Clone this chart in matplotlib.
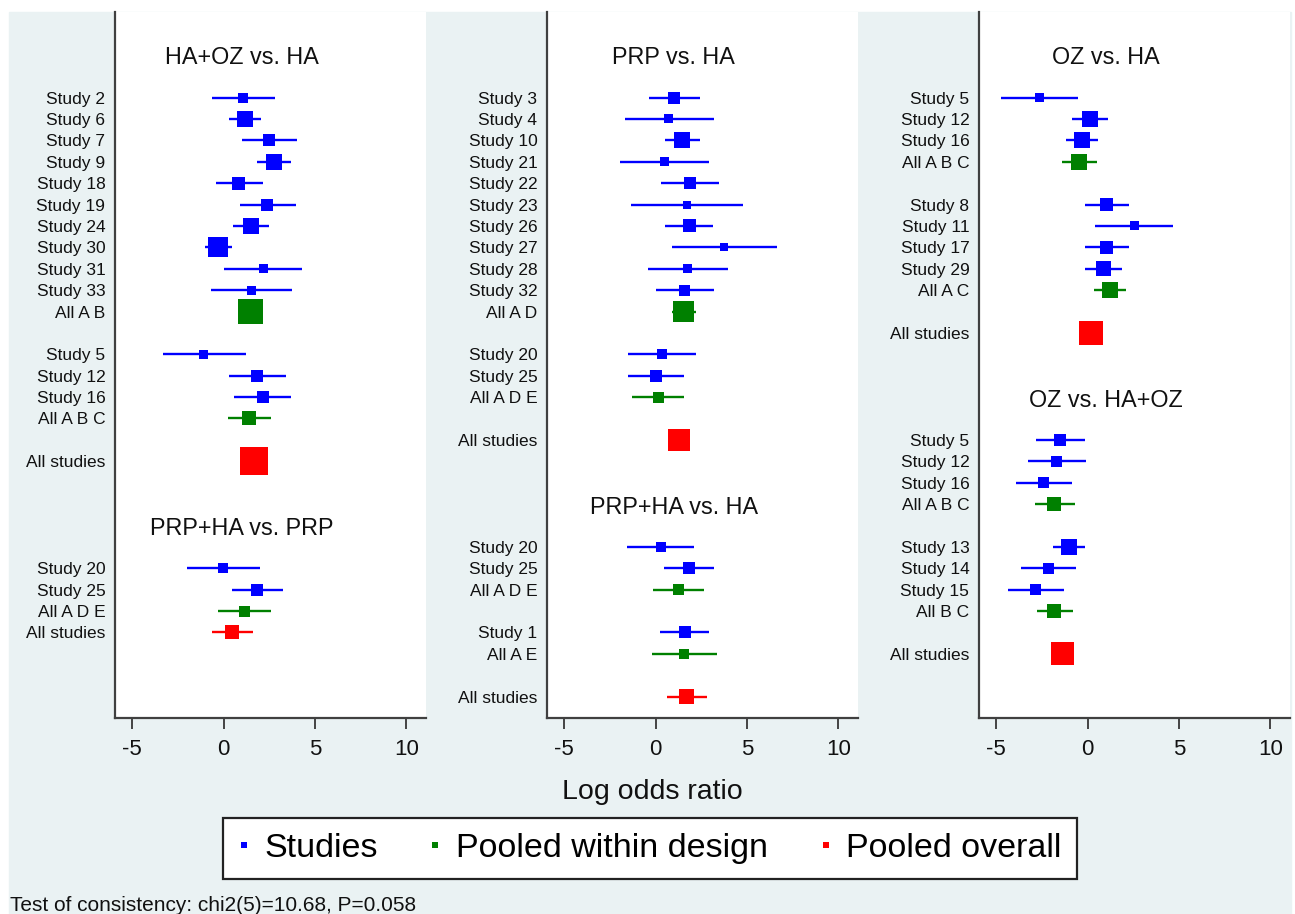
import matplotlib.pyplot as plt
from matplotlib.lines import Line2D
from matplotlib.patches import Rectangle

plt.rcParams['font.family'] = ['Liberation Sans', 'DejaVu Sans']

# row layout of each panel, top to bottom (first row is -4)
# kinds: '' empty, 't' heading, 's' study, 'p' pooled within design, 'o' pooled overall
p1_labels = ['', '', 'HA+OZ vs. HA', '',
             'Study 2', 'Study 6', 'Study 7', 'Study 9', 'Study 18', 'Study 19',
             'Study 24', 'Study 30', 'Study 31', 'Study 33', 'All A B', '',
             'Study 5', 'Study 12', 'Study 16', 'All A B C', '',
             'All studies', '', '', 'PRP+HA vs. PRP', '',
             'Study 20', 'Study 25', 'All A D E', 'All studies']
p1_kinds = ['', '', 't', '',
            's', 's', 's', 's', 's', 's', 's', 's', 's', 's', 'p', '',
            's', 's', 's', 'p', '',
            'o', '', '', 't', '',
            's', 's', 'p', 'o']
p1_est = [1.08, 1.17, 2.51, 2.73, 0.84, 2.40, 1.50, -0.29, 2.16, 1.52, 1.45,
          -1.08, 1.85, 2.14, 1.39, 1.66, -0.02, 1.83, 1.15, 0.46]
p1_lo = [-0.62, 0.27, 1.03, 1.80, -0.40, 0.92, 0.51, -1.03, 0.04, -0.70, 0.95,
         -3.34, 0.29, 0.59, 0.24, 1.15, -2.02, 0.44, -0.29, -0.66]
p1_hi = [2.80, 2.05, 4.00, 3.70, 2.13, 3.94, 2.51, 0.48, 4.30, 3.74, 1.95,
         1.21, 3.42, 3.70, 2.58, 2.20, 1.99, 3.26, 2.58, 1.59]
p1_wt = [10, 16, 12, 16, 13, 12, 16, 20, 9, 9, 25,
         9, 12, 12, 14, 28, 10, 12, 11, 14]

p2_labels = ['', '', 'PRP vs. HA', '',
             'Study 3', 'Study 4', 'Study 10', 'Study 21', 'Study 22', 'Study 23',
             'Study 26', 'Study 27', 'Study 28', 'Study 32', 'All A D', '',
             'Study 20', 'Study 25', 'All A D E', '',
             'All studies', '', '', 'PRP+HA vs. HA', '',
             'Study 20', 'Study 25', 'All A D E', '',
             'Study 1', 'All A E', '', 'All studies']
p2_kinds = ['', '', 't', '',
            's', 's', 's', 's', 's', 's', 's', 's', 's', 's', 'p', '',
            's', 's', 'p', '',
            'o', '', '', 't', '',
            's', 's', 'p', '',
            's', 'p', '', 'o']
p2_est = [1.03, 0.73, 1.43, 0.48, 1.87, 1.70, 1.83, 3.75, 1.76, 1.58, 1.54,
          0.33, 0.04, 0.13, 1.30, 0.27, 1.81, 1.23, 1.58, 1.56, 1.70]
p2_lo = [-0.38, -1.67, 0.49, -1.96, 0.31, -1.34, 0.53, 0.90, -0.42, 0.00, 0.90,
         -1.50, -1.50, -1.30, 0.85, -1.56, 0.44, -0.16, 0.22, -0.22, 0.62]
p2_hi = [2.45, 3.17, 2.42, 2.93, 3.46, 4.80, 3.15, 6.63, 3.94, 3.20, 2.23,
         2.20, 1.56, 1.56, 1.75, 2.12, 3.20, 2.62, 2.91, 3.35, 2.79]
p2_wt = [12, 9, 16, 9, 12, 8, 13, 8, 9, 11, 21,
         10, 12, 11, 22, 10, 12, 11, 12, 10, 15]

p3_labels = ['', '', 'OZ vs. HA', '',
             'Study 5', 'Study 12', 'Study 16', 'All A B C', '',
             'Study 8', 'Study 11', 'Study 17', 'Study 29', 'All A C', '',
             'All studies', '', '', 'OZ vs. HA+OZ', '',
             'Study 5', 'Study 12', 'Study 16', 'All A B C', '',
             'Study 13', 'Study 14', 'Study 15', 'All B C', '',
             'All studies']
p3_kinds = ['', '', 't', '',
            's', 's', 's', 'p', '',
            's', 's', 's', 's', 'p', '',
            'o', '', '', 't', '',
            's', 's', 's', 'p', '',
            's', 's', 's', 'p', '',
            'o']
p3_est = [-2.65, 0.15, -0.33, -0.48, 1.03, 2.54, 1.03, 0.87, 1.20, 0.20,
          -1.53, -1.69, -2.41, -1.82, -1.03, -2.15, -2.85, -1.82, -1.38]
p3_lo = [-4.73, -0.85, -1.21, -1.42, -0.15, 0.42, -0.17, -0.13, 0.33, -0.25,
         -2.85, -3.25, -3.95, -2.91, -1.88, -3.66, -4.36, -2.77, -1.80]
p3_hi = [-0.53, 1.14, 0.59, 0.53, 2.28, 4.69, 2.28, 1.88, 2.08, 0.65,
         -0.17, -0.07, -0.87, -0.72, -0.15, -0.62, -1.29, -0.81, -0.95]
p3_wt = [9, 16, 16, 16, 13, 9, 13, 15, 16, 24,
         12, 11, 11, 14, 16, 11, 11, 14, 23]

xticks = [-5, 0, 5, 10]
legend_labels = ['Studies', 'Pooled within design', 'Pooled overall']
colors = {'s': '#0000ff', 'p': '#008000', 'o': '#ff0000'}

W, H = 1295, 914
fig = plt.figure(figsize=(W / 100, H / 100), dpi=100)
bg = Rectangle((9 / W, 0), (1291 - 9) / W, 1 - 12 / H,
               transform=fig.transFigure, color='#eaf2f3', zorder=-10)
fig.patches.append(bg)

panels = [(115, p1_labels, p1_kinds, p1_est, p1_lo, p1_hi, p1_wt),
          (547, p2_labels, p2_kinds, p2_est, p2_lo, p2_hi, p2_wt),
          (979, p3_labels, p3_kinds, p3_est, p3_lo, p3_hi, p3_wt)]

for left, labels, kinds, est, lo, hi, wt in panels:
    ax = fig.add_axes([left / W, 1 - 718 / H, 311 / W, (718 - 12) / H])
    ax.set_facecolor('white')
    rows = [i - 4 for i in range(len(labels))]
    mrows = [r for r, k in zip(rows, kinds) if k in colors]
    mkinds = [k for k in kinds if k in colors]
    cols = [colors[k] for k in mkinds]
    ax.hlines(mrows, lo, hi, colors=cols, lw=1.7, zorder=2)
    ax.scatter(est, mrows, s=[(w * 0.72) ** 2 for w in wt], c=cols,
               marker='s', linewidths=0, zorder=3)
    for r, k, lab in zip(rows, kinds, labels):
        if k == 't':
            ax.text(1.0, r + 0.15, lab, ha='center', va='center', fontsize=16.8,
                    color='#111111')
    ax.set_yticks(mrows)
    ax.set_yticklabels([lab for lab, k in zip(labels, kinds) if k in colors],
                       fontsize=12.5, color='#111111')
    ax.set_ylim(29, -4)
    ax.set_xlim(-5.95, 11.08)
    ax.set_xticks(xticks)
    ax.set_xticklabels([str(t) for t in xticks], fontsize=16, color='#111111')
    ax.tick_params(axis='y', length=0, pad=7)
    ax.tick_params(axis='x', length=8, width=1.4, color='#444444', pad=7)
    for side in ['top', 'right']:
        ax.spines[side].set_visible(False)
    for side in ['left', 'bottom']:
        ax.spines[side].set_color('#404040')
        ax.spines[side].set_linewidth(1.6)

fig.text(652 / W, 1 - 792 / H, 'Log odds ratio', ha='center', va='center',
         fontsize=20.5, color='#111111')

handles = [Line2D([], [], ls='none', marker='s', ms=5, mew=0, color=colors[k])
           for k in ['s', 'p', 'o']]
leg = fig.legend(handles, legend_labels, loc='center',
                 bbox_to_anchor=(650 / W, 1 - 848.5 / H), ncol=3, fontsize=24.5,
                 frameon=True, fancybox=False, borderpad=0.45, handlelength=0.3,
                 handletextpad=0.45, columnspacing=1.55)
leg.get_frame().set_edgecolor('#222222')
leg.get_frame().set_linewidth(1.6)
leg.get_frame().set_facecolor('white')
leg.get_frame().set_alpha(1)

fig.text(10 / W, 3 / H, 'Test of consistency: chi2(5)=10.68, P=0.058',
         ha='left', va='baseline', fontsize=15, color='#111111')

fig.savefig('out.png', dpi=100)
